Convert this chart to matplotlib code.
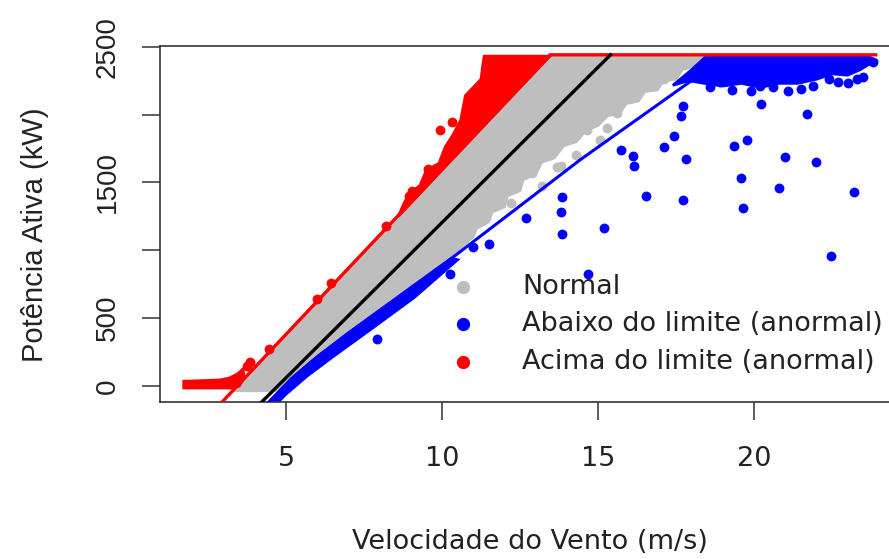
import matplotlib.pyplot as plt

# velocidade do vento (m/s) x potencia ativa (kW)
lim_sup_x = [2.95, 13.46, 23.9]
lim_sup_y = [-118, 2440, 2440]
curva_x = [4.22, 15.4]
curva_y = [-118, 2440]
lim_inf_x = [4.45, 5.2, 6.0, 7.0, 8.5, 10.3, 14.45, 18.0, 18.6]
lim_inf_y = [-118, 60, 215, 390, 640, 940, 1670, 2250, 2360]

# nuvem densa dos pontos normais (contorno)
normal_area_x = [3.35, 13.46, 18.4, 18.1, 17.7, 17.5, 17.1, 16.9, 16.5, 16.3, 15.9, 15.7,
                 15.3, 15.0, 14.6, 14.3, 13.9, 13.6, 13.2, 13.0, 12.6, 12.5, 12.1, 12.0,
                 11.6, 11.5, 11.1, 11.0, 10.5, 10.0, 8.5, 7.0, 6.0, 5.2, 4.65]
normal_area_y = [-35, 2435, 2435, 2360, 2330, 2260, 2250, 2180, 2170, 2100, 2080, 2010,
                 1990, 1920, 1880, 1800, 1770, 1680, 1650, 1560, 1520, 1440, 1400, 1320,
                 1280, 1210, 1160, 1100, 1000, 890, 640, 390, 215, 60, -35]
normal_x = [12.2, 12.9, 13.2, 13.7, 13.8, 14.3, 14.65, 15.06, 15.3, 15.6, 16.0, 16.35, 16.7, 17.1]
normal_y = [1350, 1570, 1475, 1614, 1622, 1700, 1886, 1813, 1900, 2012, 2130, 2181, 2230, 2260]

# acima do limite
acima_area_x = [8.6, 8.75, 8.9, 9.3, 9.5, 9.9, 10.1, 10.35, 10.6, 10.7, 10.75, 11.0, 11.25, 11.3, 11.35, 13.46]
acima_area_y = [1250, 1330, 1400, 1480, 1590, 1640, 1760, 1850, 1960, 2080, 2140, 2200, 2260, 2350, 2430, 2430]
acima_baixo_x = [1.72, 1.72, 2.4, 2.9, 3.2, 3.45, 3.62, 3.66, 3.5, 3.35]
acima_baixo_y = [-15, 35, 40, 45, 60, 90, 125, 60, 0, -15]
acima_x = [3.75, 3.85, 4.45, 6.0, 6.45, 8.2, 8.95, 9.05, 9.55, 9.95, 10.32]
acima_y = [150, 180, 270, 640, 760, 1180, 1400, 1440, 1600, 1886, 1945]

# abaixo do limite
abaixo_faixa_x = [4.45, 5.2, 6.0, 7.0, 8.5, 10.3, 10.5, 9.1, 7.6, 6.5, 5.68, 5.0, 4.75]
abaixo_faixa_y = [-118, 60, 215, 390, 640, 940, 930, 650, 398, 215, 74, -60, -118]
abaixo_topo_x = [17.4, 18.0, 18.5, 23.6, 23.9, 23.4, 23.0, 22.5, 22.0, 21.4, 20.8,
                 20.2, 19.6, 19.0, 18.4, 17.9]
abaixo_topo_y = [2215, 2330, 2435, 2435, 2400, 2330, 2290, 2300, 2260, 2230, 2230,
                 2200, 2230, 2210, 2230, 2250]
abaixo_x = [23.3, 23.8, 20.24, 21.7, 17.73, 17.67, 17.45, 17.12, 15.74, 16.12, 16.16,
            17.83, 19.37, 19.76, 20.98, 22.0, 19.57, 20.8, 23.2, 16.54, 17.73, 19.66,
            13.84, 13.81, 13.84, 12.69, 15.19, 22.46, 14.68, 11.5, 10.98, 10.27, 7.92,
            18.9, 20.2, 21.5, 22.4, 18.6, 19.3, 19.9, 20.6, 21.1, 21.9, 22.7, 23.5, 23.0]
abaixo_y = [2264, 2390, 2080, 2006, 2065, 1991, 1844, 1763, 1740, 1696, 1622,
            1674, 1770, 1814, 1689, 1652, 1534, 1460, 1431, 1401, 1372, 1313,
            1394, 1283, 1121, 1239, 1165, 959, 826, 1047, 1025, 826, 346,
            2242, 2213, 2190, 2264, 2200, 2180, 2170, 2200, 2170, 2210, 2240, 2280, 2230]

cinza = '#BEBEBE'
texto = '#222222'

fig = plt.figure(figsize=(8.89, 5.59), dpi=100)
ax = fig.add_axes([160/889, 157/559, 740/889, 356/559])

ax.fill(normal_area_x, normal_area_y, color=cinza, lw=2, zorder=1)
ax.scatter(normal_x, normal_y, s=50, color=cinza, lw=0, zorder=1, label='Normal')

ax.fill(abaixo_faixa_x, abaixo_faixa_y, color='blue', lw=2, zorder=2)
ax.fill(abaixo_topo_x, abaixo_topo_y, color='blue', lw=2, zorder=2)
ax.scatter(abaixo_x, abaixo_y, s=50, color='blue', lw=0, zorder=2,
           label='Abaixo do limite (anormal)')

ax.fill(acima_area_x, acima_area_y, color='red', lw=2, zorder=3)
ax.fill(acima_baixo_x, acima_baixo_y, color='red', lw=2, zorder=3)
ax.scatter(acima_x, acima_y, s=50, color='red', lw=0, zorder=3,
           label='Acima do limite (anormal)')

ax.plot(lim_sup_x, lim_sup_y, color='red', lw=2.4, zorder=4)
ax.plot(curva_x, curva_y, color='black', lw=2.4, zorder=4)
ax.plot(lim_inf_x, lim_inf_y, color='blue', lw=2.2, zorder=4)

ax.set_xlim(0.96, 24.68)
ax.set_ylim(-118, 2505)

for s in ax.spines.values():
    s.set_linewidth(1.2)
    s.set_color('#333333')

ax.set_xticks([5, 10, 15, 20])
ax.set_xticklabels(['5', '10', '15', '20'], fontsize=19.5)
ax.set_yticks([0, 500, 1000, 1500, 2000, 2500])
ax.set_yticklabels(['0', '500', '', '1500', '', '2500'], rotation=90, va='center',
                   family='Liberation Sans', fontsize=20)
ax.tick_params(length=13, width=1.1, color='#333333', labelcolor=texto)
ax.tick_params(axis='x', pad=19)
ax.tick_params(axis='y', pad=15)

ax.set_xlabel('Velocidade do Vento (m/s)', fontsize=19.5, color=texto)
ax.xaxis.set_label_coords(0.5, -0.358)
ax.set_ylabel('Potência Ativa (kW)', fontsize=21, family='Liberation Sans', color=texto)
ax.yaxis.set_label_coords(-0.15, 0.47)

leg = fig.legend(loc='upper left', bbox_to_anchor=(436/889, 1 - 274/559), frameon=False,
                 fontsize=19.5, markerscale=1.35, scatterpoints=1, handlelength=2.0,
                 handletextpad=1.19, labelspacing=0.42, borderpad=0, borderaxespad=0)
for t in leg.get_texts():
    t.set_color(texto)

fig.savefig('out.png', dpi=100)
